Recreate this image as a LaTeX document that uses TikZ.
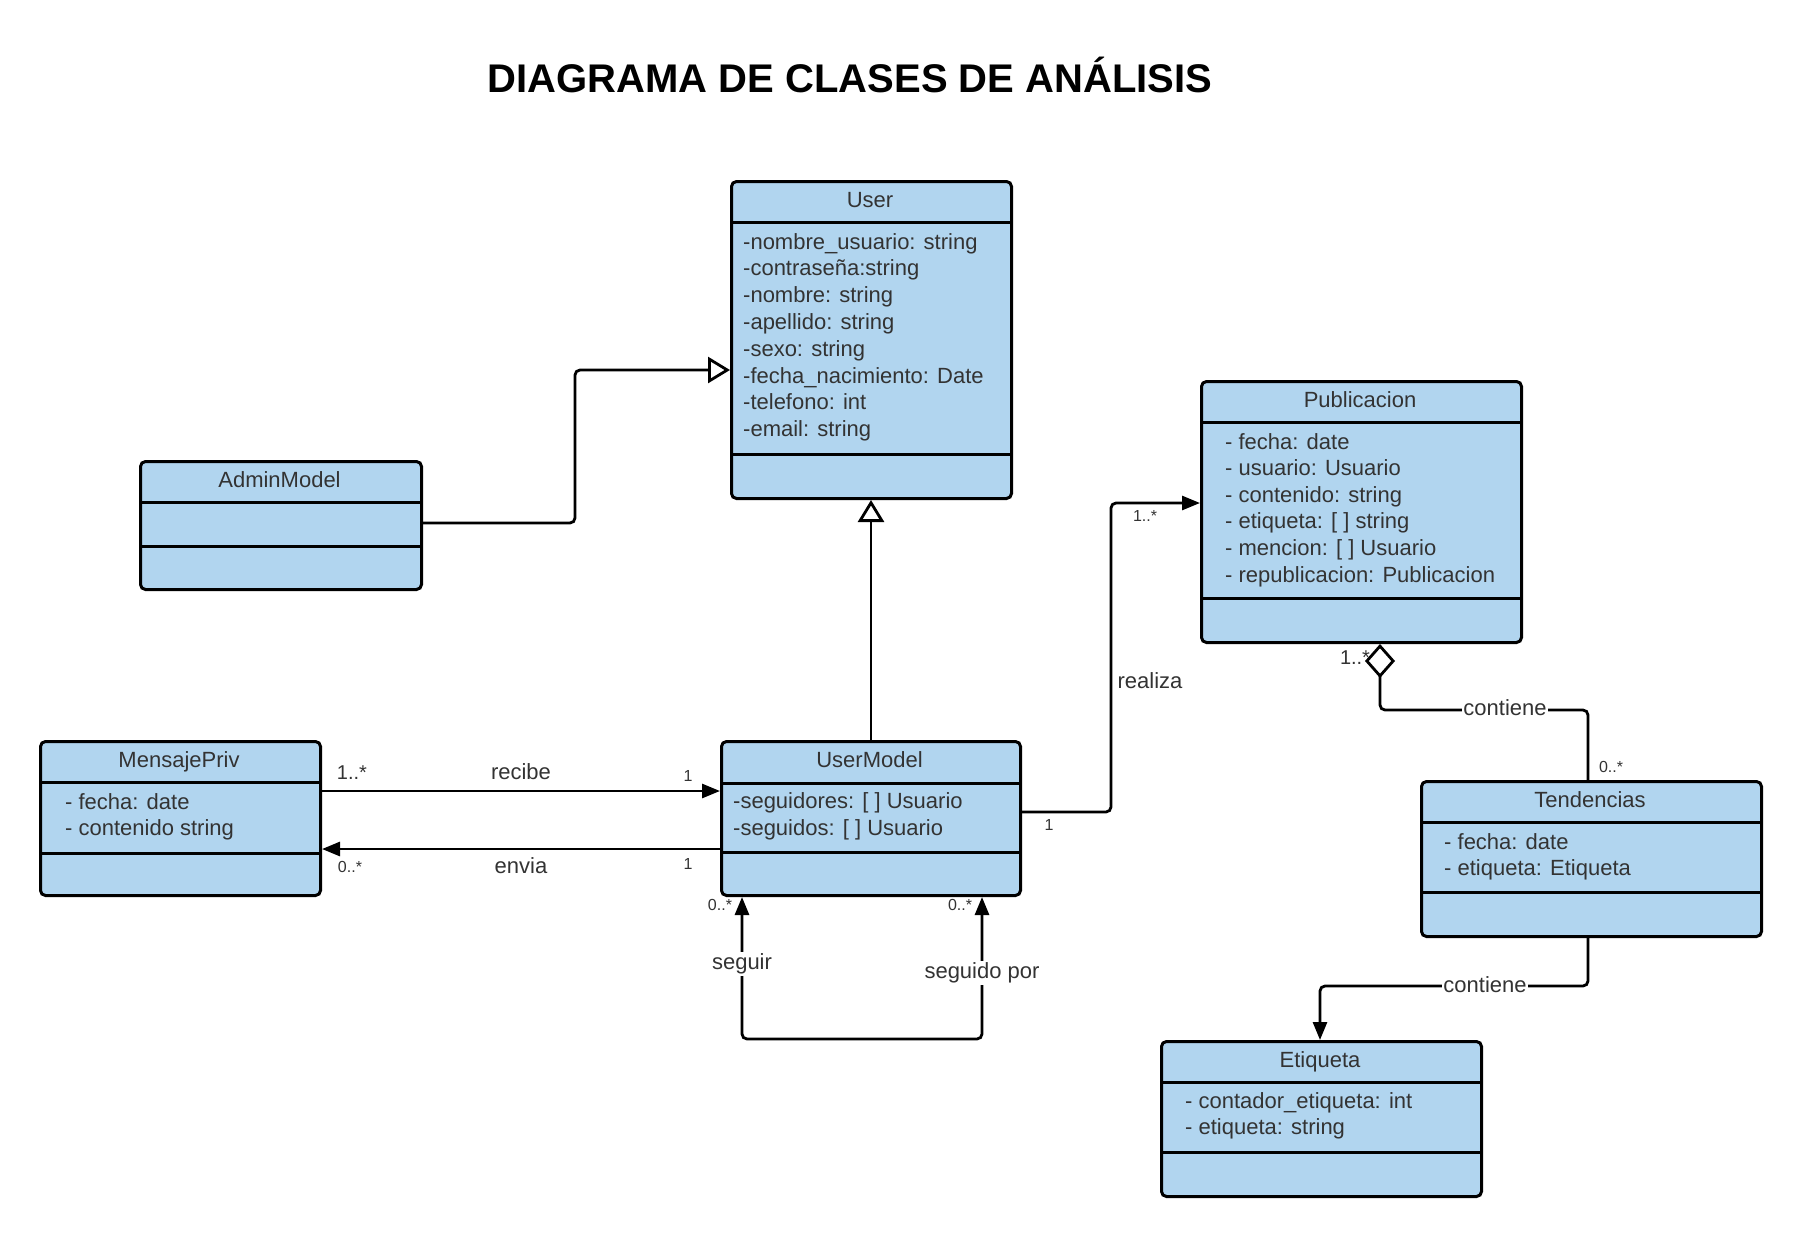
\documentclass[tikz,border=0pt]{standalone}
\usepackage{fontspec}
\setmainfont{Liberation Sans}
\usetikzlibrary{arrows.meta}
\definecolor{umlblue}{HTML}{B1D5EF}
\definecolor{txt}{HTML}{333333}
\tikzset{
  classbox/.style={draw=black, fill=umlblue, line width=3pt, rounded corners=5pt, inner sep=0pt},
  divider/.style={line width=3pt},
  conn/.style={line width=2.8pt, rounded corners=5pt},
  bodytxt/.style={font=\fontsize{22}{26}\selectfont, text=txt, inner sep=0pt},
  lbltxt/.style={font=\fontsize{20}{24}\selectfont, text=txt, inner sep=0pt},
  smalllbl/.style={font=\fontsize{16}{19}\selectfont, text=txt, inner sep=0pt},
  whitebg/.style={fill=white, inner sep=1.5pt},
  filledtip/.tip={Triangle[length=18pt,width=14pt]},
  gentip/.tip={Triangle[fill=white,length=22pt,width=26pt]},
  aggtip/.tip={Diamond[fill=white,length=34pt,width=30pt]},
}
\newcommand\umlclass[8]{%
  \node[classbox, minimum width=#4pt, minimum height=#5pt, anchor=north west] (#1) at (#2,#3) {};
  \draw[divider] (#1.west |- 0,#6) -- (#1.east |- 0,#6);
  \draw[divider] (#1.west |- 0,#7) -- (#1.east |- 0,#7);
  \node[bodytxt, anchor=base] (#1t) at ({#2+#4/2},{(#3+#6)/2+6}) {#8};
}
\begin{document}
\begin{tikzpicture}[x=1pt,y=-1pt]
\fill[white] (0,0) rectangle (1800,1235);
\useasboundingbox (0,0) rectangle (1800,1235);

\node[font=\fontsize{40}{48}\selectfont\bfseries, inner sep=0pt] (title) at (850,75) {DIAGRAMA DE CLASES DE ANÁLISIS};

% classes
\umlclass{user}{730}{180}{280}{317}{222}{454}{User}
\foreach \t [count=\i] in {-nombre\_usuario: string, -contraseña:string, -nombre: string, -apellido: string, -sexo: string, -fecha\_nacimiento: Date, -telefono: int, -email: string}
  \node[bodytxt, anchor=base west] (userA\i) at (743,{249+(\i-1)*26.8}) {\t};

\umlclass{admin}{139}{460}{281}{128}{502}{546}{AdminModel}

\umlclass{msg}{39}{740}{280}{154}{782}{853}{MensajePriv}
\node[bodytxt, anchor=base west] (msgA1) at (65,809) {- fecha: date};
\node[bodytxt, anchor=base west] (msgA2) at (65,835) {- contenido string};

\umlclass{um}{720}{740}{299}{154}{783}{852}{UserModel}
\node[bodytxt, anchor=base west] (umA1) at (733,808) {-seguidores: [ ] Usuario};
\node[bodytxt, anchor=base west] (umA2) at (733,835) {-seguidos: [ ] Usuario};

\umlclass{pub}{1200}{380}{320}{261}{422}{598}{Publicacion}
\foreach \t [count=\i] in {- fecha: date, - usuario: Usuario, - contenido: string, - etiqueta: [ ] string, - mencion: [ ] Usuario, - republicacion: Publicacion}
  \node[bodytxt, anchor=base west] (pubA\i) at (1225,{449+(\i-1)*26.6}) {\t};

\umlclass{tend}{1420}{780}{340}{155}{822}{892}{Tendencias}
\node[bodytxt, anchor=base west] (tendA1) at (1444,849) {- fecha: date};
\node[bodytxt, anchor=base west] (tendA2) at (1444,875) {- etiqueta: Etiqueta};

\umlclass{etq}{1160}{1040}{320}{155}{1082}{1152}{Etiqueta}
\node[bodytxt, anchor=base west] (etqA1) at (1185,1108) {- contador\_etiqueta: int};
\node[bodytxt, anchor=base west] (etqA2) at (1185,1134) {- etiqueta: string};

% generalizations
\draw[conn, -{gentip}] (um.north) -- (um.north |- user.south);
\draw[conn, -{gentip}] (admin.east |- 0,523) -- (575,523) -- (575,370) -- (user.west |- 0,370);

% recibe / envia
\draw[conn, -{filledtip}] (msg.east |- 0,791) -- (um.west |- 0,791);
\draw[conn, -{filledtip}] (um.west |- 0,849) -- (msg.east |- 0,849);
\node[lbltxt, anchor=base] (m1) at (352,779) {1..*};
\node[bodytxt, anchor=base] (recibe) at (521,779) {recibe};
\node[smalllbl, anchor=base] (m2) at (688,781) {1};
\node[smalllbl, anchor=base] (m3) at (350,872) {0..*};
\node[bodytxt, anchor=base] (envia) at (521,873) {envia};
\node[smalllbl, anchor=base] (m4) at (688,869) {1};

% seguir / seguido por
\draw[conn, {filledtip}-{filledtip}] (um.south -| 742,0) -- (742,1039) -- (982,1039) -- (um.south -| 982,0);
\node[bodytxt, whitebg] (seguir) at (742,964) {seguir};
\node[bodytxt, whitebg] (seguido) at (982,973) {seguido por};
\node[smalllbl, anchor=base] (m5) at (720,910) {0..*};
\node[smalllbl, anchor=base] (m6) at (960,910) {0..*};

% realiza
\draw[conn, -{filledtip}] (um.east |- 0,812) -- (1111,812) -- (1111,503) -- (pub.west |- 0,503);
\node[smalllbl, anchor=base] (m7) at (1049,830) {1};
\node[smalllbl, anchor=base] (m8) at (1145,521) {1..*};
\node[bodytxt, anchor=base] (realiza) at (1150,688) {realiza};

% aggregation
\node[lbltxt, anchor=base] (m9) at (1355,664) {1..*};
\draw[conn, {aggtip}-] (pub.south -| 1380,0) -- (1380,710) -- (1588,710) -- (tend.north -| 1588,0);
\node[bodytxt, whitebg] (cont1) at (1505,708) {contiene};
\node[smalllbl, anchor=base] (m10) at (1611,772) {0..*};

% tendencias -> etiqueta
\draw[conn, -{filledtip}] (tend.south -| 1588,0) -- (1588,986) -- (1320,986) -- (etq.north -| 1320,0);
\node[bodytxt, whitebg] (cont2) at (1485,985) {contiene};
\end{tikzpicture}
\end{document}
